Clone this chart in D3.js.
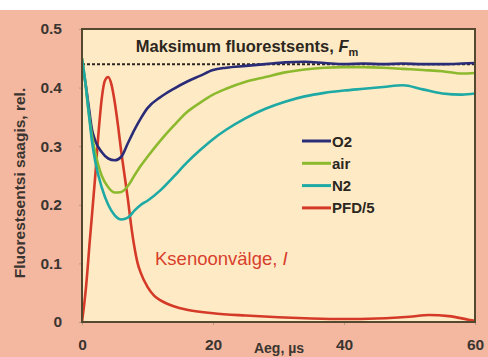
<!DOCTYPE html>
<html>
<head>
<meta charset="utf-8">
<script src="https://cdn.jsdelivr.net/npm/d3@7"></script>
<style>
  html, body { margin: 0; padding: 0; background: #ffffff; }
  svg { display: block; }
</style>
</head>
<body>
<svg id="chart" width="488" height="357"></svg>
<script>
// Time axis (µs) shared by the three gas curves
const tGas = [0, 0.5, 1, 1.5, 2, 3, 4, 5, 6, 7, 8, 9, 10, 12, 14, 16, 18, 20, 22, 25, 28, 31, 34, 37, 40, 43, 46, 49, 52, 55, 58, 60];
const o2  = [0.44, 0.41, 0.37, 0.33, 0.31, 0.29, 0.279, 0.276, 0.282, 0.305, 0.328, 0.348, 0.365, 0.384, 0.398, 0.41, 0.42, 0.43, 0.434, 0.437, 0.44, 0.443, 0.444, 0.442, 0.44, 0.441, 0.44, 0.441, 0.44, 0.44, 0.441, 0.442];
const air = [0.45, 0.41, 0.36, 0.32, 0.29, 0.25, 0.23, 0.221, 0.222, 0.232, 0.25, 0.267, 0.282, 0.31, 0.335, 0.358, 0.374, 0.388, 0.398, 0.41, 0.418, 0.426, 0.431, 0.434, 0.435, 0.435, 0.434, 0.432, 0.43, 0.428, 0.424, 0.425];
const n2  = [0.45, 0.41, 0.36, 0.31, 0.275, 0.23, 0.2, 0.182, 0.175, 0.178, 0.19, 0.2, 0.207, 0.225, 0.248, 0.272, 0.293, 0.312, 0.328, 0.348, 0.364, 0.376, 0.385, 0.391, 0.395, 0.398, 0.401, 0.404, 0.397, 0.39, 0.388, 0.39];

// Xenon flash (PFD divided by 5)
const tPfd = [0, 0.6, 1.2, 2, 2.5, 3, 3.5, 4, 4.5, 5, 5.5, 6, 6.5, 7, 7.5, 8, 8.5, 9, 10, 11, 12, 14, 16, 20, 25, 30, 35, 40, 45, 50, 53, 56, 59, 60];
const pfd  = [0, 0.058, 0.14, 0.246, 0.32, 0.38, 0.412, 0.418, 0.405, 0.375, 0.335, 0.29, 0.25, 0.21, 0.165, 0.128, 0.1, 0.083, 0.06, 0.045, 0.037, 0.027, 0.021, 0.015, 0.011, 0.008, 0.006, 0.005, 0.006, 0.009, 0.012, 0.01, 0.004, 0.002];

const fm = 0.44;
const xTicks = [0, 20, 40, 60];
const yTicks = [0, 0.1, 0.2, 0.3, 0.4, 0.5];
const yTickLabels = ["0", "0.1", "0.2", "0.3", "0.4", "0.5"];

const seriesNames  = ["O2", "air", "N2", "PFD/5"];
const seriesColors = ["#2a2c78", "#8cb92e", "#1ea9a4", "#d53a28"];

const svg = d3.select("#chart");
const W = 488, H = 357;
const m = { left: 82, right: 475, top: 29, bottom: 322 };

// backgrounds
svg.append("rect").attr("x", 0).attr("y", 10).attr("width", W).attr("height", H - 10).attr("fill", "#f4b8a0");
svg.append("rect").attr("x", m.left).attr("y", m.top).attr("width", m.right - m.left).attr("height", m.bottom - m.top).attr("fill", "#feebc6");

const x = d3.scaleLinear().domain([0, 60]).range([m.left, m.right]);
const y = d3.scaleLinear().domain([0, 0.5]).range([m.bottom, m.top]);

const font = "'Liberation Sans', Arial, sans-serif";

// y axis labels
const yAxis = d3.axisLeft(y).tickValues(yTicks).tickFormat((d, i) => yTickLabels[i]).tickSize(3).tickPadding(17);
const gy = svg.append("g").attr("transform", `translate(${m.left},0)`).call(yAxis);
gy.select(".domain").remove();
gy.selectAll(".tick line").attr("stroke", "#b89a84").attr("stroke-width", 1);
gy.selectAll("text").attr("font-family", font).attr("font-weight", "bold").attr("font-size", 15.5).attr("fill", "#3a3530");

// x axis labels
const xAxis = d3.axisBottom(x).tickValues(xTicks).tickFormat(d3.format("d")).tickSize(3).tickPadding(14);
const gx = svg.append("g").attr("transform", `translate(0,${m.bottom})`).call(xAxis);
gx.select(".domain").remove();
gx.selectAll(".tick line").attr("stroke", "#b89a84").attr("stroke-width", 1);
gx.selectAll("text").attr("font-family", font).attr("font-weight", "bold").attr("font-size", 15.5).attr("fill", "#3a3530");

// axis titles
svg.append("text").attr("x", 279).attr("y", 353).attr("text-anchor", "middle")
  .attr("font-family", font).attr("font-weight", "bold").attr("font-size", 14).attr("fill", "#3a3530")
  .text("Aeg, µs");
svg.append("text").attr("transform", "translate(25,183) rotate(-90)").attr("text-anchor", "middle")
  .attr("font-family", font).attr("font-weight", "bold").attr("font-size", 15.5).attr("fill", "#3a3530")
  .text("Fluorestsentsi saagis, rel.");

// Fm dashed level
svg.append("line").attr("x1", x(0)).attr("x2", x(60)).attr("y1", y(fm)).attr("y2", y(fm))
  .attr("stroke", "#2b2620").attr("stroke-width", 2).attr("stroke-dasharray", "3,2");

const line = d3.line().x(d => x(d[0])).y(d => y(d[1])).curve(d3.curveMonotoneX);
const gasSets = [o2, air, n2];
svg.append("clipPath").attr("id", "pc").append("rect")
  .attr("x", m.left).attr("y", m.top - 2).attr("width", m.right - m.left).attr("height", m.bottom - m.top + 2);
const plot = svg.append("g").attr("clip-path", "url(#pc)");

// flash curve first, gas curves on top
plot.append("path").datum(tPfd.map((t, i) => [t, pfd[i]])).attr("d", line)
  .attr("fill", "none").attr("stroke", seriesColors[3]).attr("stroke-width", 2.6);
gasSets.forEach((vals, k) => {
  plot.append("path").datum(tGas.map((t, i) => [t, vals[i]])).attr("d", line)
    .attr("fill", "none").attr("stroke", seriesColors[k]).attr("stroke-width", 2.6);
});

// frame
svg.append("rect").attr("x", m.left).attr("y", m.top).attr("width", m.right - m.left).attr("height", m.bottom - m.top)
  .attr("fill", "none").attr("stroke", "#54492f").attr("stroke-width", 2);

// annotations
const fmText = svg.append("text").attr("x", 247).attr("y", 52).attr("text-anchor", "middle")
  .attr("font-family", font).attr("font-weight", "bold").attr("font-size", 16.5).attr("fill", "#2b2620");
fmText.append("tspan").text("Maksimum fluorestsents, ");
fmText.append("tspan").attr("font-style", "italic").text("F");
fmText.append("tspan").attr("font-size", 11).attr("dy", 4).text("m");

const kText = svg.append("text").attr("x", 155).attr("y", 265)
  .attr("font-family", font).attr("font-size", 18.5).attr("fill", "#d8402c");
kText.append("tspan").text("Ksenoonvälge, ");
kText.append("tspan").attr("font-style", "italic").text("I");

// legend
const leg = svg.append("g");
seriesNames.forEach((name, i) => {
  const ly = 141 + i * 22.3;
  leg.append("line").attr("x1", 302).attr("x2", 331).attr("y1", ly).attr("y2", ly)
    .attr("stroke", seriesColors[i]).attr("stroke-width", 3);
  leg.append("text").attr("x", 332).attr("y", ly + 5.5)
    .attr("font-family", font).attr("font-weight", "bold").attr("font-size", 15).attr("fill", "#2b2620")
    .text(name);
});
</script>
</body>
</html>
